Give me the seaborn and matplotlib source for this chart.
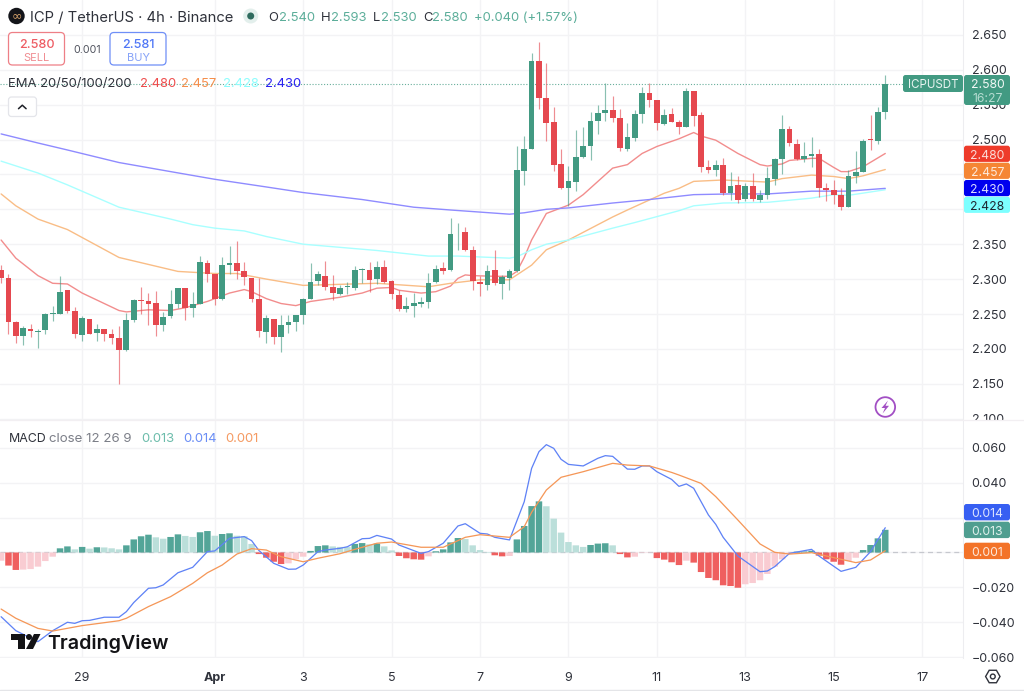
import numpy as np
import pandas as pd
import matplotlib
matplotlib.use("Agg")
import matplotlib.pyplot as plt
from matplotlib.patches import FancyBboxPatch, Circle, Rectangle, Polygon, RegularPolygon
import seaborn as sns

# ICP/USDT 4h candles, oldest first
opens = [2.313,2.302,2.239,2.218,2.229,2.224,2.227,2.250,2.250,2.284,
         2.254,2.220,2.243,2.223,2.228,2.221,2.216,2.198,2.242,2.270,
         2.269,2.266,2.234,2.247,2.265,2.287,2.259,2.265,2.323,2.307,
         2.272,2.320,2.323,2.311,2.302,2.272,2.224,2.243,2.217,2.234,
         2.238,2.248,2.272,2.297,2.305,2.288,2.279,2.288,2.287,2.313,
         2.313,2.300,2.317,2.297,2.277,2.257,2.261,2.265,2.267,2.296,
         2.316,2.313,2.367,2.368,2.342,2.296,2.291,2.313,2.293,2.302,
         2.312,2.455,2.486,2.613,2.560,2.525,2.465,2.430,2.439,2.475,
         2.490,2.527,2.538,2.542,2.531,2.487,2.502,2.537,2.566,2.556,
         2.522,2.537,2.525,2.518,2.569,2.535,2.460,2.456,2.463,2.423,
         2.435,2.415,2.433,2.413,2.420,2.444,2.472,2.515,2.494,2.472,
         2.477,2.479,2.430,2.427,2.421,2.403,2.447,2.453,2.501,2.498,
         2.540]
closes = [2.302,2.238,2.218,2.230,2.225,2.226,2.250,2.252,2.282,2.254,
          2.221,2.244,2.222,2.229,2.221,2.216,2.199,2.242,2.270,2.268,
          2.265,2.234,2.246,2.265,2.287,2.258,2.265,2.324,2.308,2.271,
          2.320,2.323,2.312,2.303,2.272,2.225,2.244,2.217,2.234,2.238,
          2.248,2.272,2.296,2.307,2.288,2.280,2.287,2.290,2.313,2.315,
          2.299,2.317,2.296,2.279,2.257,2.262,2.266,2.267,2.295,2.315,
          2.312,2.365,2.368,2.342,2.297,2.293,2.312,2.294,2.303,2.311,
          2.456,2.486,2.613,2.560,2.523,2.464,2.430,2.440,2.475,2.490,
          2.527,2.538,2.542,2.531,2.488,2.503,2.537,2.566,2.556,2.523,
          2.535,2.525,2.518,2.569,2.534,2.461,2.457,2.464,2.423,2.434,
          2.413,2.434,2.415,2.420,2.445,2.472,2.515,2.495,2.472,2.477,
          2.479,2.431,2.428,2.421,2.403,2.447,2.454,2.498,2.500,2.540,
          2.580]
highs = [2.320,2.308,2.240,2.233,2.236,2.229,2.251,2.261,2.304,2.284,
         2.260,2.247,2.243,2.236,2.228,2.228,2.233,2.251,2.272,2.289,
         2.280,2.283,2.253,2.285,2.287,2.287,2.282,2.333,2.327,2.308,
         2.331,2.347,2.355,2.325,2.302,2.302,2.249,2.243,2.249,2.249,
         2.249,2.273,2.323,2.312,2.326,2.306,2.292,2.296,2.319,2.316,
         2.324,2.326,2.328,2.299,2.285,2.274,2.280,2.275,2.309,2.320,
         2.324,2.387,2.380,2.374,2.348,2.304,2.320,2.341,2.306,2.314,
         2.491,2.505,2.624,2.640,2.610,2.547,2.486,2.462,2.514,2.518,
         2.539,2.549,2.581,2.563,2.544,2.523,2.542,2.575,2.581,2.556,
         2.544,2.545,2.528,2.574,2.569,2.539,2.470,2.471,2.474,2.454,
         2.448,2.437,2.452,2.428,2.461,2.473,2.535,2.519,2.501,2.496,
         2.503,2.486,2.437,2.442,2.431,2.456,2.484,2.501,2.535,2.546,
         2.593]
lows = [2.295,2.222,2.209,2.205,2.217,2.202,2.221,2.240,2.250,2.252,
        2.216,2.212,2.221,2.212,2.212,2.207,2.149,2.197,2.239,2.250,
        2.234,2.219,2.225,2.244,2.259,2.241,2.246,2.265,2.296,2.263,
        2.270,2.308,2.300,2.292,2.267,2.217,2.208,2.207,2.196,2.223,
        2.226,2.236,2.271,2.292,2.285,2.270,2.277,2.279,2.285,2.295,
        2.282,2.293,2.295,2.272,2.255,2.253,2.246,2.260,2.258,2.295,
        2.307,2.312,2.341,2.340,2.285,2.276,2.284,2.291,2.272,2.285,
        2.310,2.435,2.486,2.544,2.498,2.455,2.429,2.405,2.426,2.474,
        2.471,2.508,2.527,2.525,2.483,2.483,2.498,2.523,2.547,2.514,
        2.521,2.525,2.508,2.518,2.520,2.454,2.452,2.447,2.420,2.413,
        2.409,2.412,2.412,2.410,2.415,2.435,2.451,2.490,2.471,2.468,
        2.460,2.418,2.412,2.408,2.399,2.403,2.437,2.453,2.485,2.494,
        2.530]

# MACD histogram, one bar per candle
macd_hist = [-.0047,-.0075,-.0100,-.0098,-.0095,-.0081,-.0049,-.0024,.0024,.0035,
             .0018,.0032,.0022,.0030,.0029,.0024,.0018,.0041,.0075,.0093,
             .0102,.0087,.0079,.0089,.0104,.0095,.0089,.0116,.0123,.0096,
             .0106,.0110,.0096,.0093,.0049,-.0009,-.0030,-.0053,-.0066,-.0062,
             -.0039,-.0024,.0009,.0037,.0041,.0035,.0032,.0031,.0049,.0054,
             .0047,.0051,.0035,.0012,-.0020,-.0033,-.0039,-.0041,-.0022,.0007,
             .0018,.0058,.0083,.0077,.0041,.0014,.0003,-.0016,-.0022,-.0020,
             .0075,.0152,.0266,.0293,.0265,.0194,.0114,.0060,.0041,.0032,
             .0043,.0051,.0053,.0041,-.0009,-.0028,-.0024,-.0003,-.0002,-.0032,
             -.0041,-.0056,-.0072,-.0047,-.0058,-.0112,-.0146,-.0159,-.0188,-.0192,
             -.0202,-.0182,-.0175,-.0159,-.0123,-.0081,-.0039,-.0009,.0005,.0006,
             .0010,-.0018,-.0039,-.0053,-.0070,-.0049,-.0030,.0014,.0043,.0081,
             .0130]

# Moving averages, sampled at selected candle numbers
ema20_bars = [0,2,5,7,9,11,16,17,20,23,25,28,31,33,34,36,38,40,42,46,49,51,53,54,57,59,61,62,63,64,67,69,70,71,72,74,77,79,81,83,85,87,89,92,94,95,97,100,103,104,106,107,110,111,113,114,115,117,120]
ema20 = [2.356,2.330,2.305,2.294,2.293,2.280,2.255,2.253,2.256,2.255,2.259,2.268,2.280,2.285,2.282,2.272,2.265,2.262,2.268,2.274,2.280,2.287,2.288,2.284,2.280,2.282,2.290,2.301,2.306,2.305,2.304,2.304,2.311,2.331,2.356,2.394,2.406,2.421,2.440,2.459,2.464,2.480,2.490,2.501,2.510,2.505,2.499,2.480,2.464,2.462,2.465,2.470,2.473,2.473,2.460,2.454,2.454,2.461,2.480]
ema50_bars = [0,2,5,9,16,20,24,29,32,36,41,51,58,61,65,69,70,72,74,77,83,85,90,92,94,98,104,106,110,113,115,117,120]
ema50 = [2.422,2.405,2.386,2.371,2.331,2.321,2.311,2.308,2.308,2.300,2.291,2.294,2.289,2.294,2.299,2.299,2.306,2.320,2.342,2.356,2.389,2.399,2.423,2.430,2.440,2.442,2.439,2.444,2.449,2.447,2.444,2.448,2.457]
ema100_bars = [0,5,9,16,23,26,29,33,36,41,51,58,62,69,70,72,74,77,83,86,92,94,98,104,110,113,115,120]
ema100 = [2.469,2.452,2.435,2.403,2.386,2.378,2.373,2.369,2.361,2.350,2.341,2.333,2.333,2.330,2.332,2.342,2.350,2.356,2.373,2.381,2.398,2.405,2.409,2.410,2.416,2.421,2.420,2.428]
ema200_bars = [0,5,9,16,23,29,36,41,49,56,61,69,70,71,74,77,83,88,94,99,104,110,113,115,120]
ema200 = [2.508,2.495,2.485,2.467,2.454,2.443,2.432,2.424,2.414,2.403,2.399,2.393,2.394,2.395,2.400,2.402,2.409,2.414,2.421,2.422,2.422,2.426,2.426,2.426,2.430]

# MACD and signal lines, sampled at selected candle numbers
macd_bars = [0,2,5,7,9,10,11,12,14,16,17,18,20,21,22,24,26,28,29,31,33,34,35,37,39,40,41,43,44,46,47,49,50,51,53,54,57,58,60,62,63,65,66,67,69,71,72,73,74,75,76,77,79,81,82,83,85,86,87,88,89,91,92,93,94,96,97,98,100,103,104,105,107,110,111,114,116,118,120]
macd_line = [-.0368,-.0448,-.0511,-.0448,-.0400,-.0406,-.0391,-.0389,-.0371,-.0371,-.0339,-.0287,-.0205,-.0202,-.0186,-.0116,-.0085,.0005,.0009,.0081,.0091,.0068,.0011,-.0062,-.0096,-.0095,-.0072,.0005,.0014,.0024,.0033,.0079,.0081,.0098,.0077,.0043,-.0005,.0005,.0053,.0152,.0165,.0110,.0106,.0087,.0072,.0291,.0482,.0578,.0618,.0597,.0534,.0505,.0496,.0540,.0555,.0551,.0478,.0477,.0496,.0496,.0463,.0419,.0379,.0393,.0368,.0215,.0161,.0087,-.0020,-.0110,-.0106,-.0081,-.0005,.0018,-.0020,-.0108,-.0085,.0005,.0142]
signal_bars = [0,2,5,7,11,16,17,20,23,26,28,30,32,34,36,38,41,43,46,48,51,53,57,60,63,65,69,71,72,74,76,79,83,85,88,91,92,95,97,100,103,105,107,110,114,116,118,120]
signal_line = [-.0324,-.0377,-.0435,-.0450,-.0419,-.0391,-.0377,-.0310,-.0253,-.0177,-.0116,-.0072,-.0009,.0022,.0014,-.0024,-.0053,-.0033,-.0007,.0018,.0053,.0060,.0030,.0030,.0087,.0102,.0087,.0148,.0230,.0358,.0431,.0463,.0511,.0501,.0496,.0459,.0444,.0396,.0320,.0186,.0049,.0001,-.0009,-.0001,-.0039,-.0058,-.0043,.0010]

# Axis ticks: bar number counted from the newest candle at 120
date_tick_bars = [11,29,41,53,65,77,89,101,113,125]
date_tick_labels = ["29","Apr","3","5","7","9","11","13","15","17"]
price_ticks = [2.10,2.15,2.20,2.25,2.30,2.35,2.40,2.45,2.50,2.55,2.60,2.65]
price_tick_labels = ["2.100","2.150","2.200","2.250","2.300","2.350","","","2.500","2.550","2.600","2.650"]
macd_ticks = [-.06,-.04,-.02,0,.02,.04,.06]
macd_tick_labels = ["\u22120.060","\u22120.040","\u22120.020","","","0.040","0.060"]

ema_values = {"20": 2.480, "50": 2.457, "100": 2.428, "200": 2.430}
macd_values = {"hist": 0.013, "macd": 0.014, "signal": 0.001}

GREEN = "#429a82"
RED = "#e5484f"
GRID = "#f3f3f5"
TEXT = "#2f323b"
EMA_COLORS = {"20": "#f28d8d", "50": "#f9bd86", "100": "#a9ffff", "200": "#8f8bff"}
BLUE_LINE = "#5f82f6"
ORANGE_LINE = "#f59758"
HIST_PALETTE = {"up": "#53a598", "up_fade": "#bbdfda", "down": "#ef5f5f", "down_fade": "#f9ccd2"}

sns.set_theme(style="white")
plt.rcParams["font.family"] = ["Inter", "DejaVu Sans"]

W, H = 1024, 691
PLOT_R = 963
fig = plt.figure(figsize=(W / 100, H / 100), dpi=100, facecolor="white")


def pane(top_px, bottom_px):
    return fig.add_axes([0, 1 - bottom_px / H, PLOT_R / W, (bottom_px - top_px) / H])


ax = pane(0, 420)
ax_macd = pane(421, 658)
xlim = (-0.15, 130.55)

# Candles: wicks under bodies, moving averages beneath both
bars = np.arange(len(opens))
o, c, hi, lo = map(np.array, (opens, closes, highs, lows))
rising = c >= o
colors = np.where(rising, GREEN, RED)
ax.vlines(bars, lo, hi, colors=colors, lw=0.85, alpha=0.62, zorder=3)
ax.bar(bars, np.abs(c - o), bottom=np.minimum(o, c), width=0.78, color=colors, linewidth=0, zorder=4)

for key, xs, ys in (("20", ema20_bars, ema20), ("50", ema50_bars, ema50),
                    ("100", ema100_bars, ema100), ("200", ema200_bars, ema200)):
    sns.lineplot(x=xs, y=ys, ax=ax, color=EMA_COLORS[key], lw=1.0, errorbar=None, zorder=2)

ax.axhline(closes[-1], color=GREEN, lw=0.8, ls=(0, (1, 1.6)), alpha=0.8, zorder=2.5)

# MACD histogram shaded by whether the bar grew or shrank against its predecessor
hist = np.array(macd_hist)
prev = np.concatenate(([hist[0]], hist[:-1]))
tone = np.where(hist >= 0,
                np.where(hist > prev, "up", "up_fade"),
                np.where(hist < prev, "down", "down_fade"))
hist_df = pd.DataFrame({"bar": bars, "value": hist, "tone": tone})
ax_macd.axhline(0, color="#c6c8ce", lw=0.9, ls=(0, (4, 3)), zorder=1)
sns.barplot(data=hist_df, x="bar", y="value", hue="tone", palette=HIST_PALETTE, dodge=False,
            native_scale=True, width=0.9, gap=0, saturation=1, legend=False, ax=ax_macd,
            linewidth=0, zorder=2)
for patch in ax_macd.patches:
    centre = patch.get_x() + patch.get_width() / 2
    patch.set_width(0.88)
    patch.set_x(centre - 0.44)
    patch.set_snap(False)
sns.lineplot(x=macd_bars, y=macd_line, ax=ax_macd, color=BLUE_LINE, lw=0.92, errorbar=None, zorder=3)
sns.lineplot(x=signal_bars, y=signal_line, ax=ax_macd, color=ORANGE_LINE, lw=0.92, errorbar=None, zorder=4)

# Scales and grid
for a in (ax, ax_macd):
    a.set_xlim(*xlim)
    a.set_xticks(date_tick_bars)
    a.grid(True, color=GRID, lw=1.0)
    a.set_axisbelow(True)
    a.set_xlabel("")
    a.set_ylabel("")
    a.yaxis.tick_right()
    a.tick_params(axis="y", length=0, pad=6.3, labelsize=9, labelcolor=TEXT)
    for side in ("top", "left", "bottom"):
        a.spines[side].set_visible(False)
    a.spines["right"].set_color("#ededf0")
    a.spines["right"].set_linewidth(0.8)

ax.set_ylim(2.09814, 2.69986)
ax.set_yticks(price_ticks, price_tick_labels)
ax.tick_params(axis="x", length=0, labelbottom=False)

ax_macd.set_ylim(-0.06046, 0.07536)
ax_macd.set_yticks(macd_ticks, macd_tick_labels)
ax_macd.set_xticks(date_tick_bars, date_tick_labels)
ax_macd.tick_params(axis="x", length=3.5, width=0.7, color="#c8cad0", pad=6.5, labelsize=9, labelcolor=TEXT)
ax_macd.get_xticklabels()[1].set_fontweight("bold")

# Overlay in pixel units for the platform header, price tags and logos
ui = fig.add_axes([0, 0, 1, 1], zorder=10)
ui.set_xlim(0, W)
ui.set_ylim(H, 0)
ui.axis("off")
ui.patch.set_alpha(0)


def label(x, y, s, color=TEXT, px=12.0, ha="left", **kw):
    ui.text(x, y, s, color=color, fontsize=px * 0.72, ha=ha, va="center_baseline", zorder=7, **kw)


def box(x0, y0, x1, y1, face="white", edge="none", lw=0.0, round_px=2.5, z=5):
    ui.add_patch(FancyBboxPatch((x0, y0), x1 - x0, y1 - y0, boxstyle=f"round,pad=0,rounding_size={round_px}",
                                fc=face, ec=edge, lw=lw, zorder=z))


# Header
ui.add_patch(Circle((16.5, 16), 8.2, fc="#14151a", ec="none"))
ui.text(16.5, 15.6, "\u221e", color="#d9a46c", fontsize=9, ha="center", va="center", family="DejaVu Sans", zorder=7)
label(30, 16, "ICP / TetherUS \u00b7 4h \u00b7 Binance", px=14.8)
ui.add_patch(Circle((250.7, 16), 7.5, fc="#e3efec", ec="none"))
ui.add_patch(Circle((250.7, 16), 3.5, fc="#2f6b5e", ec="none"))
VALUE_GREEN = "#5cae9a"
for x, s, col in ((268, "O", TEXT), (279, "2.540", VALUE_GREEN), (321, "H", TEXT), (331, "2.593", VALUE_GREEN),
                  (373, "L", TEXT), (381, "2.530", VALUE_GREEN), (423, "C", TEXT), (432, "2.580", VALUE_GREEN),
                  (474.5, "+0.040 (+1.57%)", VALUE_GREEN)):
    label(x, 16, s, color=col, px=13)

# Sell and buy tickets
box(8.5, 32.5, 64.5, 65, edge="#ee7f86", lw=0.9, round_px=4)
label(36.5, 43, "2.580", color="#ee5c63", px=12.6, ha="center", fontweight="medium")
label(36.5, 57, "SELL", color="#f08d92", px=11, ha="center")
label(87, 49, "0.001", color="#50535e", px=10.6, ha="center")
box(110, 32.5, 166, 65, edge="#6f8ff7", lw=0.9, round_px=4)
label(138, 43, "2.581", color="#4f76f6", px=12.6, ha="center", fontweight="medium")
label(138, 57, "BUY", color="#86a2f8", px=11, ha="center")

# EMA legend
label(8.4, 82, "EMA 20/50/100/200", px=13)
for x, key, col in ((139.7, "20", "#ee4c4c"), (181.4, "50", "#f58f4c"), (223, "100", "#8cfdfd"), (265, "200", "#2a22f2")):
    label(x, 82, f"{ema_values[key]:.3f}", color=col, px=13)

# Collapse button
box(8.5, 97, 36.5, 116.5, edge="#e4e5ea", lw=0.9, round_px=3)
ui.plot([18.5, 22.3, 26.1], [108.7, 105.2, 108.7], color="#1f2128", lw=1.1, solid_capstyle="round", zorder=7)

# Lightning badge
ui.add_patch(Circle((885.3, 407), 9.8, fc="white", ec="#a24fc4", lw=1.3))
ui.add_patch(Polygon([(888, 400.5), (881.5, 408), (885, 408), (882.6, 413.5), (889, 405.8), (885.5, 405.8)],
                     closed=True, fc="#a24fc4", ec="none"))

# Price tags on the right scale
ui.add_patch(Rectangle((964, 419.5), 60, 9, fc="white", ec="none", zorder=4))
box(903, 75, 963, 92, face=GREEN)
label(933, 83.5, "ICPUSDT", color="#e8f4f1", px=11.6, ha="center")
box(964, 75, 1010, 105, face=GREEN)
label(987.5, 83, "2.580", color="#f2f8f6", px=12.2, ha="center")
label(987.5, 97, "16:27", color="#b5dcd1", px=12.2, ha="center")
for y0, key, face, fg in ((145.7, "20", "#ee3b2a", "#fbdcd8"), (162.7, "50", "#f58634", "#fde9da"),
                          (180, "200", "#0000ee", "#dcdcff"), (196.7, "100", "#7dffff", "#1e2530")):
    box(964, y0, 1010, y0 + 16.2, face=face)
    label(987.5, y0 + 8.3, f"{ema_values[key]:.3f}", color=fg, px=12.2, ha="center")
for y0, val, face, fg in ((504, macd_values["macd"], "#375ff2", "#dfe6fe"), (521.7, macd_values["hist"], "#4f9e90", "#dff0ec"),
                          (542.7, macd_values["signal"], "#f37329", "#fde8da")):
    box(964, y0, 1010, y0 + 16.4, face=face)
    label(987.5, y0 + 8.4, f"{val:.3f}", color=fg, px=12.2, ha="center")

# MACD legend
label(8.4, 437, "MACD", px=12.4)
label(49, 437, "close 12 26 9", color="#7c7f88", px=13.3)
for x, s, col in ((141, "0.013", "#6cbcab"), (183, "0.014", "#6a8df5"), (225, "0.001", "#f59a62")):
    label(x, 437, s, color=col, px=13)

# TradingView wordmark
INK = "#131316"
ui.add_patch(Polygon([(11, 634), (24.5, 634), (24.5, 649), (18, 649), (18, 640), (11, 640)], closed=True, fc=INK, ec="none"))
ui.add_patch(Circle((29, 637), 3, fc=INK, ec="none"))
ui.add_patch(Polygon([(34, 634), (40.5, 634), (33, 649), (26, 649)], closed=True, fc=INK, ec="none"))
label(47.5, 642, "TradingView", color=INK, px=19.6, fontweight="semibold")

# Chart settings icon and the frame rules
ui.add_patch(RegularPolygon((992.8, 676.5), 6, radius=7.2, orientation=np.pi / 2, fc="white", ec="#2f323b", lw=1.0))
ui.add_patch(Circle((992.8, 676.5), 2.4, fc="white", ec="#2f323b", lw=1.0))
ui.plot([0, W], [690.3, 690.3], color="#e4e5e8", lw=1.0)
ui.plot([0, W], [420.3, 420.3], color="#f2eff2", lw=0.9, zorder=6)

fig.savefig("out.png", dpi=100)
